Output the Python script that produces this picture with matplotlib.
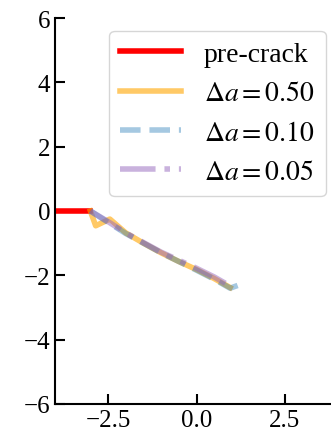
import numpy as np
import matplotlib.pyplot as plt

plt.rcParams['font.family'] = 'Liberation Serif'
plt.rcParams['mathtext.fontset'] = 'stix'

# --- DATA ---
pre_x = [-4.0, -3.0]
pre_y = [0.0, 0.0]

a50_x = [-3.0, -2.85, -2.45, -2.0, -1.5, -1.0, -0.5, 0.0, 0.5, 0.95]
a50_y = [0.0, -0.46, -0.25, -0.68, -1.0, -1.3, -1.57, -1.82, -2.1, -2.38]

a10_x = [-3.0, -2.5, -2.0, -1.5, -1.0, -0.5, 0.0, 0.5, 0.95, 1.2]
a10_y = [0.0, -0.35, -0.7, -1.0, -1.3, -1.57, -1.84, -2.12, -2.4, -2.3]

a05_x = [-3.0, -2.5, -2.0, -1.5, -1.0, -0.5, 0.0, 0.5, 0.9, 0.95]
a05_y = [0.0, -0.33, -0.68, -0.98, -1.28, -1.53, -1.78, -2.05, -2.3, -2.18]

labels = ['pre-crack', r'$\Delta a = 0.50$', r'$\Delta a = 0.10$', r'$\Delta a = 0.05$']

# --- PLOT ---
fig = plt.figure(figsize=(3.31, 4.31), dpi=100)
# axes run a bit past the right edge (reference looks cropped there)
ax = fig.add_axes([55 / 331, 26 / 431, 283 / 331, 386 / 431])
ax.plot(pre_x, pre_y, color='red', lw=4, label=labels[0])
ax.plot(a50_x, a50_y, color='orange', alpha=0.6, lw=4, label=labels[1])
ax.plot(a10_x, a10_y, color='tab:blue', alpha=0.4, lw=4, ls='--', label=labels[2])
ax.plot(a05_x, a05_y, color='tab:purple', alpha=0.5, lw=4, ls='-.', label=labels[3])

ax.set_xlim(-4, 4)
ax.set_ylim(-6, 6)
ax.set_xticks([-2.5, 0.0, 2.5])
ax.set_yticks([-6, -4, -2, 0, 2, 4, 6])
ax.spines['top'].set_visible(False)
ax.spines['right'].set_visible(False)
ax.spines['left'].set_linewidth(1.5)
ax.spines['bottom'].set_linewidth(1.5)
ax.tick_params(direction='in', length=7, width=1.5, labelsize=18)

ax.legend(loc='upper right', fontsize=20, handlelength=2.2, framealpha=0.8,
          borderaxespad=0.45, labelspacing=0.5)

plt.savefig('out.png', dpi=100)
